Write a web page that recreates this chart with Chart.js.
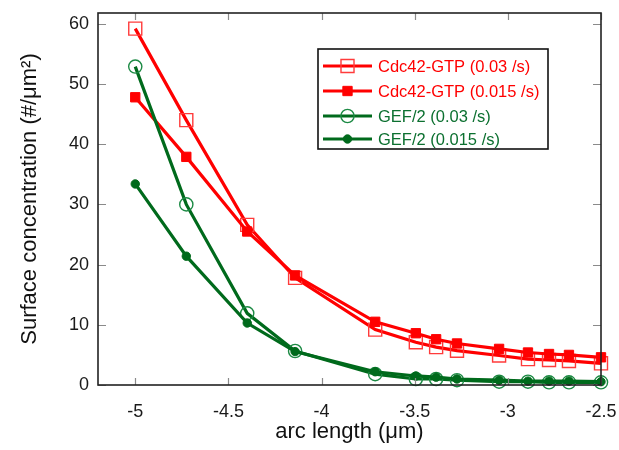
<!DOCTYPE html>
<html>
<head>
<meta charset="utf-8">
<script src="https://cdn.jsdelivr.net/npm/chart.js@4/dist/chart.umd.min.js"></script>
<style>
  html, body { margin: 0; padding: 0; background: #ffffff; }
  #wrap { width: 619px; height: 450px; position: relative; }
</style>
</head>
<body>
<div id="wrap"><canvas id="c" width="619" height="450"></canvas></div>
<script>
// ---- data ----
const arcLength = [-5, -4.726, -4.399, -4.142, -3.712, -3.494, -3.385, -3.273, -3.047, -2.892, -2.779, -2.672, -2.5];
const cdc42Fast = [59.2, 44.0, 26.6, 17.8, 9.2, 7.1, 6.3, 5.7, 4.9, 4.3, 4.15, 4.0, 3.6];
const cdc42Slow = [47.8, 37.9, 25.5, 18.2, 10.5, 8.6, 7.6, 6.9, 6.0, 5.4, 5.15, 5.0, 4.6];
const gefFast   = [52.9, 30.0, 11.9, 5.65, 1.8, 1.0, 1.0, 0.8, 0.55, 0.55, 0.45, 0.45, 0.45];
const gefSlow   = [33.4, 21.4, 10.3, 5.55, 2.2, 1.5, 1.3, 1.0, 0.8, 0.65, 0.65, 0.65, 0.55];
const seriesLabels = ['Cdc42-GTP (0.03 /s)', 'Cdc42-GTP (0.015 /s)', 'GEF/2 (0.03 /s)', 'GEF/2 (0.015 /s)'];
const xTicks = [-5, -4.5, -4, -3.5, -3, -2.5];
const yTicks = [0, 10, 20, 30, 40, 50, 60];
const xTitle = 'arc length (\u03BCm)';
const yTitle = 'Surface concentration (#/\u03BCm\u00B2)';

const RED = '#ff0000', RED_MK = '#ff3b3b';
const GREEN = '#006a1c', GREEN_MK = '#1c8a44', GREEN_TXT = '#0c7030';
const FONT = "'Liberation Sans', Arial, Helvetica, sans-serif";

const toPts = (ys) => ys.map((y, i) => ({ x: arcLength[i], y: y }));

const datasets = [
  { label: seriesLabels[0], data: toPts(cdc42Fast), borderColor: RED, borderWidth: 3.2,
    pointStyle: 'rect', pointRadius: 9.2, pointBorderColor: RED_MK, pointBorderWidth: 1.4,
    pointBackgroundColor: 'rgba(0,0,0,0)', textColor: RED, mkFill: false, order: 4 },
  { label: seriesLabels[1], data: toPts(cdc42Slow), borderColor: RED, borderWidth: 3.2,
    pointStyle: 'rect', pointRadius: 6.6, pointBorderColor: RED, pointBorderWidth: 1,
    pointBackgroundColor: RED, textColor: RED, mkFill: true, order: 3 },
  { label: seriesLabels[2], data: toPts(gefFast), borderColor: GREEN, borderWidth: 3.2,
    pointStyle: 'circle', pointRadius: 6.6, pointBorderColor: GREEN_MK, pointBorderWidth: 1.4,
    pointBackgroundColor: 'rgba(0,0,0,0)', textColor: GREEN_TXT, mkFill: false, order: 2 },
  { label: seriesLabels[3], data: toPts(gefSlow), borderColor: GREEN, borderWidth: 3.2,
    pointStyle: 'circle', pointRadius: 4.2, pointBorderColor: GREEN, pointBorderWidth: 1,
    pointBackgroundColor: GREEN, textColor: GREEN_TXT, mkFill: true, order: 1 }
];
datasets.forEach(d => { d.tension = 0; d.fill = false; d.clip = false; d.pointHoverRadius = d.pointRadius; });

// frame + inward ticks + custom legend
const framePlugin = {
  id: 'frame',
  afterDraw(chart) {
    const { ctx, chartArea: a, scales } = chart;
    ctx.save();
    ctx.strokeStyle = '#8a8a8a';
    ctx.lineWidth = 1.2;
    ctx.beginPath();
    xTicks.forEach(v => {
      const x = Math.round(scales.x.getPixelForValue(v)) + 0.5;
      ctx.moveTo(x, a.bottom); ctx.lineTo(x, a.bottom - 7);
      ctx.moveTo(x, a.top); ctx.lineTo(x, a.top + 7);
    });
    yTicks.forEach(v => {
      const y = Math.round(scales.y.getPixelForValue(v)) + 0.5;
      ctx.moveTo(a.left, y); ctx.lineTo(a.left + 8, y);
      ctx.moveTo(a.right, y); ctx.lineTo(a.right - 8, y);
    });
    ctx.stroke();
    ctx.strokeStyle = '#222222';
    ctx.lineWidth = 1.6;
    ctx.strokeRect(a.left, a.top, a.right - a.left, a.bottom - a.top);

    // legend
    const lx = 318, ly = 49, lw = 230, lh = 100;
    ctx.fillStyle = '#ffffff';
    ctx.fillRect(lx, ly, lw, lh);
    ctx.strokeStyle = '#111111';
    ctx.lineWidth = 1.6;
    ctx.strokeRect(lx, ly, lw, lh);
    const rows = [66, 91, 116, 139];
    ctx.font = '16.5px ' + FONT;
    ctx.textBaseline = 'middle';
    ctx.textAlign = 'left';
    chart.data.datasets.forEach((d, i) => {
      const y = rows[i];
      ctx.strokeStyle = d.borderColor;
      ctx.lineWidth = 3.2;
      ctx.beginPath(); ctx.moveTo(323, y); ctx.lineTo(372, y); ctx.stroke();
      const cx = 347.5;
      const r = d.pointRadius;
      ctx.lineWidth = d.pointBorderWidth;
      ctx.strokeStyle = d.pointBorderColor;
      ctx.fillStyle = d.pointBackgroundColor;
      ctx.beginPath();
      if (d.pointStyle === 'rect') {
        const s = r * Math.SQRT1_2;
        ctx.rect(cx - s, y - s, 2 * s, 2 * s);
      } else {
        ctx.arc(cx, y, r, 0, Math.PI * 2);
      }
      if (d.mkFill) ctx.fill();
      ctx.stroke();
      ctx.fillStyle = d.textColor;
      ctx.fillText(d.label, 378, y + 1);
    });
    ctx.restore();
  }
};

new Chart(document.getElementById('c'), {
  type: 'line',
  data: { datasets: datasets },
  options: {
    responsive: false,
    animation: false,
    events: [],
    layout: { padding: { top: 13, right: 18, left: 0, bottom: 0 } },
    plugins: { legend: { display: false }, tooltip: { enabled: false } },
    scales: {
      x: {
        type: 'linear', min: -5.2, max: -2.5,
        grid: { display: false, drawTicks: false },
        border: { display: false },
        afterBuildTicks: (s) => { s.ticks = xTicks.map(v => ({ value: v })); },
        afterFit: (s) => { s.height = 65; s.paddingLeft = 0; s.paddingRight = 0; },
        ticks: { color: '#1a1a1a', font: { family: FONT, size: 18 }, padding: 16, maxRotation: 0,
                 callback: (v) => String(v) },
        title: { display: true, text: xTitle, color: '#111111',
                 font: { family: FONT, size: 22 }, padding: { top: 0, bottom: 5 } }
      },
      y: {
        type: 'linear', min: 0, max: 61.8,
        grid: { display: false, drawTicks: false },
        border: { display: false },
        afterBuildTicks: (s) => { s.ticks = yTicks.map(v => ({ value: v })); },
        afterFit: (s) => { s.width = 98; s.paddingTop = 0; s.paddingBottom = 0; },
        ticks: { color: '#1a1a1a', font: { family: FONT, size: 18 }, padding: 9,
                 callback: (v) => String(v) },
        title: { display: true, text: yTitle, color: '#111111',
                 font: { family: FONT, size: 22 }, padding: { top: 17, bottom: 0 } }
      }
    }
  },
  plugins: [framePlugin]
});
</script>
</body>
</html>
